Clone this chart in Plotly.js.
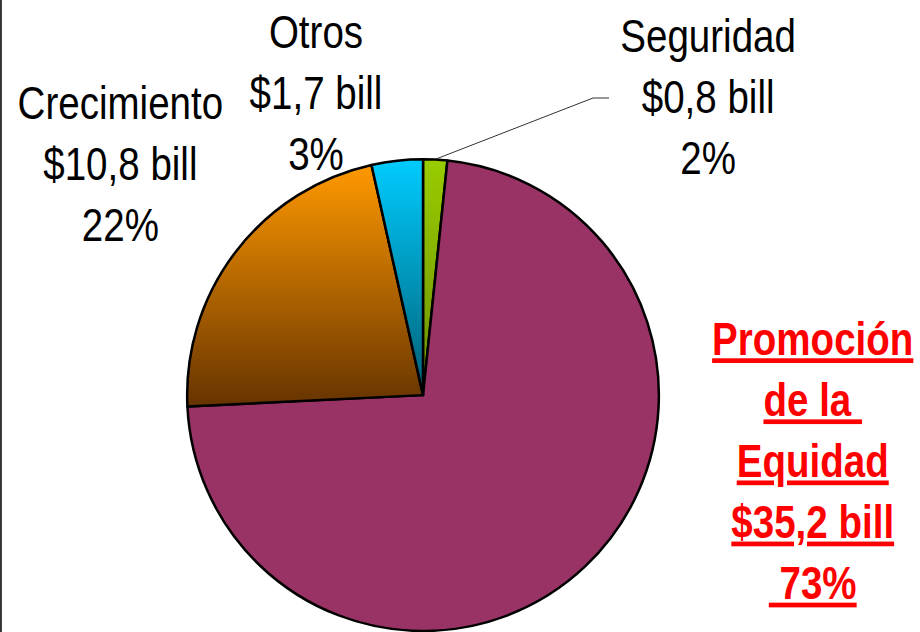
<!DOCTYPE html>
<html>
<head>
<meta charset="utf-8">
<script src="https://cdn.plot.ly/plotly-3.0.1.min.js"></script>
<style>
  html, body { margin: 0; padding: 0; background: #fff; }
  #chart { width: 920px; height: 632px; }
</style>
</head>
<body>
<div id="chart"></div>
<script>
// presupuesto por componente (billones de pesos)
var categorias = ['Seguridad', 'Promoción de la Equidad', 'Crecimiento', 'Otros'];
var valores = [0.8, 35.2, 10.8, 1.7];
var porcentajes = [2, 73, 22, 3];
var colores = ['#99cc00', '#993366', '#ff9900', '#00ccff'];

var fuente = '"Liberation Sans", Arial, sans-serif';

function etiqueta(i) {
    var v = '$' + valores[i].toFixed(1).replace('.', ',') + ' bill';
    return [v, porcentajes[i] + '%'];
}

var data = [{
    type: 'pie',
    labels: categorias,
    values: valores,
    sort: false,
    direction: 'clockwise',
    rotation: 0,
    textinfo: 'none',
    hoverinfo: 'none',
    showlegend: false,
    marker: {
        colors: colores,
        line: { color: '#000', width: 2.5 }
    },
    domain: { x: [0.2033, 0.7163], y: [0.0016, 0.748] }
}];

var s = etiqueta(0), p = etiqueta(1), c = etiqueta(2), o = etiqueta(3);

var annotations = [
    {
        text: 'Crecimiento<br>' + c[0] + '<br>' + c[1],
        x: 120 / 920, y: 0.742
    },
    {
        text: 'Otros<br>' + o[0] + '<br>' + o[1],
        x: 316 / 920, y: 0.853
    },
    {
        text: 'Seguridad<br>' + s[0] + '<br>' + s[1],
        x: 708 / 920, y: 0.848
    },
    {
        text: '<b><u>Promoción</u><br><u>de la </u><br><u>Equidad</u><br><u>' + p[0] + '</u><br><u> ' + p[1] + '</u></b>',
        x: 812 / 920, y: 0.271,
        font: { family: fuente, size: 47, color: '#ff0000' }
    }
].map(function (a) {
    return Object.assign({
        xref: 'paper', yref: 'paper',
        xanchor: 'center', yanchor: 'middle',
        showarrow: false, align: 'center',
        font: { family: fuente, size: 47, color: '#000' }
    }, a);
});

var layout = {
    width: 920,
    height: 632,
    margin: { l: 0, r: 0, t: 0, b: 0 },
    paper_bgcolor: '#fff',
    annotations: annotations,
    shapes: [
        // linea guia de Seguridad
        {
            type: 'path', xref: 'paper', yref: 'paper',
            path: 'M ' + (436 / 920) + ',' + (1 - 159 / 632) +
                  ' L ' + (593 / 920) + ',' + (1 - 98 / 632) +
                  ' L ' + (609 / 920) + ',' + (1 - 98 / 632),
            line: { color: '#333', width: 1 }
        },
        // borde izquierdo
        {
            type: 'line', xref: 'paper', yref: 'paper',
            x0: 0.001, x1: 0.001, y0: 0, y1: 1,
            line: { color: '#333', width: 2 }
        }
    ]
};

Plotly.newPlot('chart', data, layout, { staticPlot: true }).then(function (gd) {
    // texto estrecho tipo Arial Narrow
    gd.querySelectorAll('text.annotation-text').forEach(function (t) {
        t.style.transformBox = 'fill-box';
        t.style.transformOrigin = 'center';
        t.style.transform = 'scaleX(0.82)';
    });
    // subrayado mas grueso
    gd.querySelectorAll('text.annotation-text tspan').forEach(function (ts) {
        if ((ts.getAttribute('style') || '').indexOf('underline') >= 0) {
            ts.style.textDecorationThickness = '4px';
            ts.style.textUnderlineOffset = '5px';
        }
    });

    // degradados verticales como en el original
    var grads = {
        0: ['#99cc00', '#6b8f00'],
        2: ['#ff9900', '#663300'],
        3: ['#00ccff', '#005f75']
    };
    var svg = gd.querySelector('svg.main-svg');
    var defs = svg.querySelector('defs');
    var ns = 'http://www.w3.org/2000/svg';
    var slices = gd.querySelectorAll('g.slice path.surface');
    Object.keys(grads).forEach(function (k) {
        var g = document.createElementNS(ns, 'linearGradient');
        g.setAttribute('id', 'grad' + k);
        g.setAttribute('x1', '0'); g.setAttribute('y1', '0');
        g.setAttribute('x2', '0'); g.setAttribute('y2', '1');
        [[0, grads[k][0]], [1, grads[k][1]]].forEach(function (st) {
            var stop = document.createElementNS(ns, 'stop');
            stop.setAttribute('offset', st[0]);
            stop.setAttribute('stop-color', st[1]);
            g.appendChild(stop);
        });
        defs.appendChild(g);
        if (slices[k]) slices[k].style.fill = 'url(#grad' + k + ')';
    });
});
</script>
</body>
</html>
